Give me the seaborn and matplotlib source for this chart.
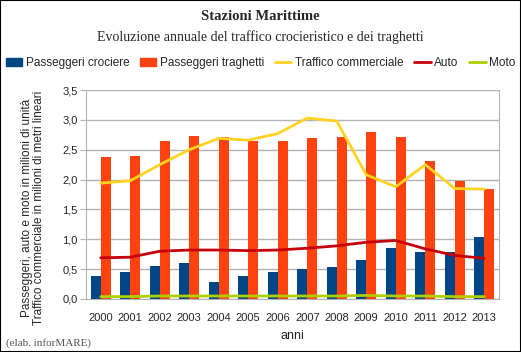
import matplotlib
matplotlib.use("Agg")
import matplotlib.pyplot as plt
import pandas as pd
import seaborn as sns
from matplotlib.patches import Patch
from matplotlib.lines import Line2D
from matplotlib.ticker import FixedLocator, FuncFormatter

anni = [str(a) for a in range(2000, 2014)]
crociere = [0.39, 0.46, 0.56, 0.61, 0.28, 0.39, 0.46, 0.51, 0.54, 0.66, 0.85, 0.79, 0.78, 1.04]
traghetti = [2.37, 2.40, 2.64, 2.73, 2.72, 2.64, 2.64, 2.70, 2.71, 2.80, 2.72, 2.31, 1.98, 1.85]
commerciale = [1.94, 1.98, 2.25, 2.50, 2.69, 2.66, 2.77, 3.03, 2.98, 2.08, 1.88, 2.25, 1.85, 1.84]
auto = [0.69, 0.70, 0.80, 0.82, 0.82, 0.81, 0.82, 0.85, 0.89, 0.95, 0.98, 0.84, 0.73, 0.68]
moto = [0.04, 0.04, 0.05, 0.05, 0.05, 0.05, 0.05, 0.05, 0.05, 0.06, 0.05, 0.05, 0.04, 0.04]

bar_names = ["Passeggeri crociere", "Passeggeri traghetti"]
line_names = ["Traffico commerciale", "Auto", "Moto"]
colori = {"Passeggeri crociere": "#004586", "Passeggeri traghetti": "#ff420e",
          "Traffico commerciale": "#ffd320", "Auto": "#c5000b", "Moto": "#aecf00"}

bars = pd.DataFrame({"anno": anni * 2,
                     "valore": crociere + traghetti,
                     "serie": [bar_names[0]] * len(anni) + [bar_names[1]] * len(anni)})
lines = pd.DataFrame({"anno": anni * 3,
                      "valore": commerciale + auto + moto,
                      "serie": sum([[n] * len(anni) for n in line_names], [])})

sns.set_style("white")
plt.rcParams["font.family"] = ["Liberation Sans", "DejaVu Sans"]

fig = plt.figure(figsize=(5.21, 3.52), dpi=100)
ax = fig.add_axes([86 / 521, 53 / 352, 413 / 521, 209 / 352])

sns.barplot(data=bars, x="anno", y="valore", hue="serie", palette=colori,
            width=0.68, gap=0, saturation=1, errorbar=None, legend=False, ax=ax,
            edgecolor="none", zorder=2)
sns.pointplot(data=lines, x="anno", y="valore", hue="serie", palette=colori,
              markers="", linestyles="-", dodge=False, errorbar=None, legend=False,
              ax=ax, lw=2, zorder=3)

ax.set_xlim(-0.5, len(anni) - 0.5)
ax.set_ylim(0, 3.5)
ax.set_yticks([0, 0.5, 1, 1.5, 2, 2.5, 3, 3.5])
ax.yaxis.set_major_formatter(FuncFormatter(lambda v, p: f"{v:.1f}".replace(".", ",")))
ax.xaxis.set_minor_locator(FixedLocator([i - 0.5 for i in range(len(anni) + 1)]))
ax.tick_params(axis="x", which="major", length=0, labelsize=8, pad=10)
ax.tick_params(axis="x", which="minor", length=4, color="#b3b3b3")
ax.tick_params(axis="y", length=4, color="#b3b3b3", labelsize=8, pad=2, left=True)
ax.grid(axis="y", color="#b3b3b3", lw=1, zorder=0)
ax.set_axisbelow(True)
for s in ["left", "bottom", "right"]:
    ax.spines[s].set_color("#b3b3b3")
ax.spines["top"].set_visible(False)
ax.set_xlabel("anni", fontsize=9, labelpad=5)
ax.set_ylabel("")

fig.text(0.5, 1 - 17 / 352, "Stazioni Marittime", ha="center", va="center",
         family="Liberation Serif", weight="bold", fontsize=10.5)
fig.text(0.5, 1 - 37 / 352, "Evoluzione annuale del traffico crocieristico e dei traghetti",
         ha="center", va="center", family="Liberation Serif", fontsize=10)
fig.text(33 / 521, 1 - 208 / 352,
         "Passeggeri, auto e moto in milioni di unità\nTraffico commerciale in milioni di metri lineari",
         rotation=90, ha="center", va="center", fontsize=8.5, linespacing=1.0)
fig.text(6 / 521, 1 - 343 / 352, "(elab. inforMARE)", ha="left", va="center",
         family="Liberation Serif", fontsize=8, color="#555555")

handles = [Patch(color=colori[n]) for n in bar_names] + \
          [Line2D([], [], color=colori[n], lw=2) for n in line_names]
fig.legend(handles, bar_names + line_names, loc="center", bbox_to_anchor=(0.5, 1 - 63 / 352),
           ncol=5, frameon=False, fontsize=8.5, handlelength=1.4, handleheight=0.6,
           handletextpad=0.3, columnspacing=0.9, borderaxespad=0)

fig.patches.append(plt.Rectangle((0, 0), 1, 1, transform=fig.transFigure, fill=False,
                                 edgecolor="black", lw=1.5))
fig.savefig("out.png", dpi=100)
